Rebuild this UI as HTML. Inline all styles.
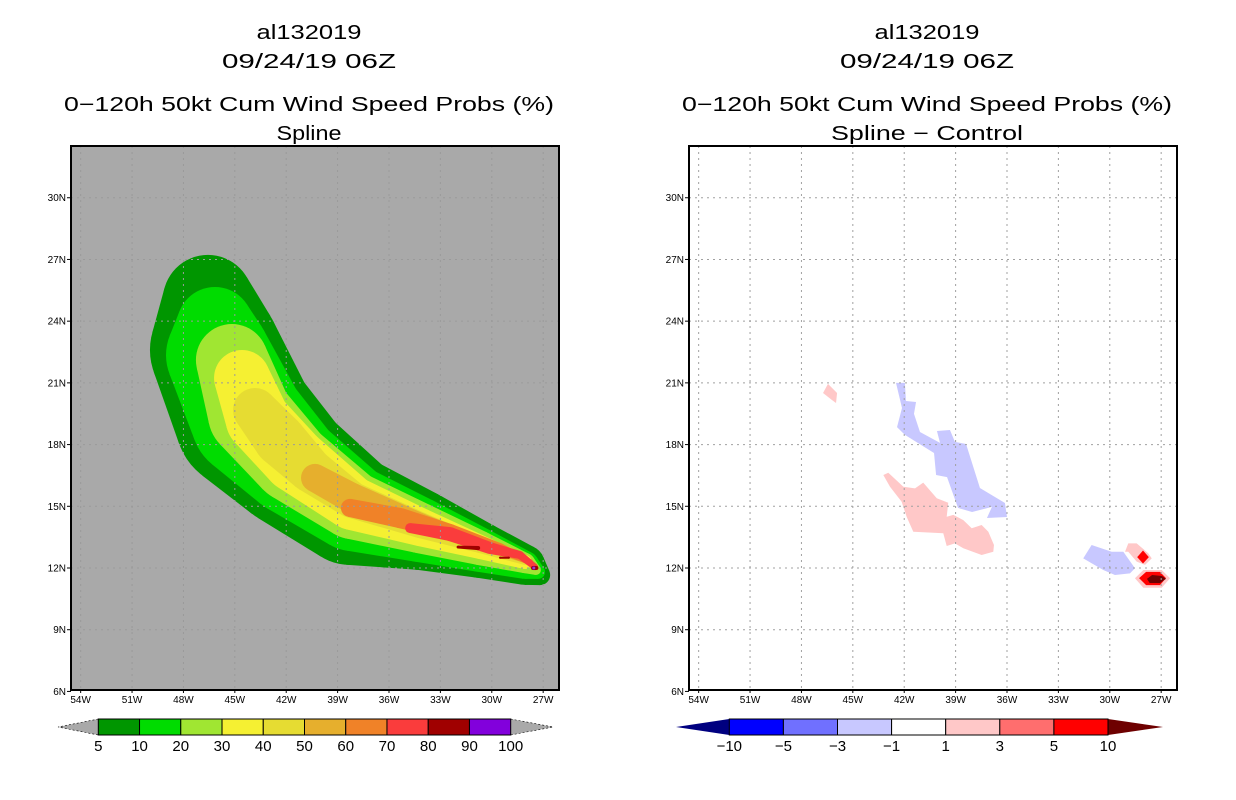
<!DOCTYPE html>
<html><head><meta charset="utf-8">
<style>
html,body{margin:0;padding:0;background:#fff;}
svg{display:block;font-family:"Liberation Sans",sans-serif;}
</style></head>
<body>
<svg id="root" width="1236" height="800" viewBox="0 0 1236 800">
  <g id="left"></g>
  <g id="right"></g>
</svg>
<script>
// ---- data ----
const latTicks = [6,9,12,15,18,21,24,27,30];
const lonTicks = [54,51,48,45,42,39,36,33,30,27];
const probLevels = [5,10,20,30,40,50,60,70,80,90,100];
const probColors = ["#009600","#00dc00","#a0e632","#f5f032","#e6dc32","#e6af2d","#f08228","#fa3c3c","#a00000","#8200dc"];
const diffLabels = ["−10","−5","−3","−1","1","3","5","10"];
const diffColors = ["#0000ff","#7070ff","#c8c8ff","#ffffff","#ffc8c8","#ff6e6e","#ff0000"];
// contour tracks [lonW, lat, radiusDeg]
const lev5  = [[[46.57,25.03,2.19],[46.16,22.60,3.16],[44.41,19.19,3.40],[41.78,17.01,3.01],[38.28,14.82,2.67],[34.19,13.85,1.94],[30.69,12.88,1.36],[28.06,12.15,0.97],[27.18,11.66,0.49]]];
const lev10 = [[[46.16,23.81,1.85],[45.98,22.35,2.53],[44.23,19.19,2.77],[41.66,17.01,2.43],[38.16,14.92,2.09],[34.19,13.85,1.56],[30.69,12.88,1.07],[28.06,12.15,0.68],[27.30,11.81,0.34]]];
const lev20 = [[[45.17,22.11,1.75],[44.11,19.44,2.04],[41.66,17.15,1.94],[38.16,15.06,1.65],[34.19,13.94,1.22],[30.69,12.97,0.83],[28.06,12.24,0.49],[27.42,11.90,0.24]]];
const lev30 = [[[44.58,21.24,1.36],[43.65,19.19,1.56],[41.49,17.25,1.56],[38.16,15.16,1.31],[34.19,13.99,0.92],[30.69,13.02,0.58],[28.06,12.29,0.34]]];
const lev40 = [[[43.82,19.68,1.07],[42.36,18.22,1.26],[40.61,16.76,1.07],[38.16,15.31,0.88],[34.19,14.09,0.63],[30.69,13.12,0.39],[28.06,12.34,0.19]]];
const lev50 = [[[40.32,16.38,0.68],[38.16,15.40,0.73],[34.19,14.19,0.49],[30.69,13.22,0.29],[28.06,12.39,0.15]]];
const lev60 = [[[38.28,14.92,0.44],[35.36,14.43,0.49],[32.44,13.75,0.39],[29.52,12.97,0.24],[27.77,12.29,0.15]]];
const lev70 = [[[34.77,13.94,0.24],[32.44,13.65,0.34],[30.10,12.97,0.29],[28.35,12.63,0.19],[27.48,12.05,0.15]]];
const lev80 = [[[31.97,13.02,0.07],[30.80,12.97,0.1]],[[29.52,12.5,0.05],[29.0,12.5,0.05]],[[27.59,12.0,0.1],[27.4,12.0,0.1]]];
const lev90 = [[[27.55,12.0,0.08]]];
// difference blobs [lonW, lat]
const blueMain = [[42.48,21.0],[41.96,21.0],[41.90,20.12],[41.31,20.07],[41.43,19.49],[41.08,18.61],[39.91,18.08],[40.09,18.66],[39.33,18.71],[39.04,18.13],[38.39,18.03],[37.58,15.89],[36.12,15.16],[36.0,14.48],[37.17,14.43],[36.88,14.97],[38.04,14.72],[38.86,14.92],[39.50,16.42],[40.14,16.52],[40.26,17.59],[41.96,18.47],[42.42,18.85],[42.13,19.78]];
const pinkMain = [[43.22,16.52],[42.93,16.63],[42.05,15.95],[41.37,15.87],[40.89,16.15],[40.10,15.39],[39.43,15.17],[39.52,14.49],[39.13,14.58],[38.55,14.33],[38.06,13.93],[37.48,14.09],[37.09,13.76],[36.76,13.12],[36.80,12.79],[37.48,12.63],[38.55,12.96],[39.04,13.20],[39.52,13.07],[39.72,13.69],[41.47,13.76],[41.86,14.49],[42.15,15.22],[42.83,15.95]];
const pinkNW = [[46.74,20.51],[46.45,20.95],[45.92,20.51],[45.98,20.02],[46.22,20.17]];
const blueSE = [[31.55,12.47],[31.06,13.12],[29.89,12.79],[29.21,12.79],[28.53,11.99],[28.82,11.74],[29.70,11.66],[30.38,11.90]];
const pinkSE1 = [[29.11,12.79],[28.92,13.20],[28.43,13.20],[27.75,12.71],[27.55,12.47],[27.94,12.15],[28.43,12.31],[28.92,12.79]];
const redSE1 = [[28.40,12.53],[28.06,12.85],[27.72,12.53],[28.06,12.22]];
const pinkSE2 = [[28.53,11.50],[28.04,11.90],[26.97,11.90],[26.48,11.50],[26.97,11.04],[28.04,11.04]];
const redSE2 = [[28.29,11.51],[27.88,11.81],[27.07,11.81],[26.72,11.51],[27.07,11.17],[27.88,11.17]];
const darkSE2 = [[27.83,11.47],[27.53,11.66],[26.95,11.61],[26.72,11.47],[27.07,11.27],[27.67,11.27]];

// ---- scales ----
const NS="http://www.w3.org/2000/svg";
const PX_LON=17.13, PX_LAT=20.57;
function xs(off){return lon=>389+off+(36-lon)*PX_LON;}
function ys(lat){return 568-(lat-12)*PX_LAT;}
function mk(tag,attrs,parent){const e=document.createElementNS(NS,tag);for(const k in attrs)e.setAttribute(k,attrs[k]);parent.appendChild(e);return e;}

function txt(parent,x,y,s,size,anchor,len){
  const t=mk('text',{x:x,y:y,'font-size':size,'text-anchor':anchor||'middle',fill:'#000'},parent);
  if(len){t.setAttribute('textLength',len);t.setAttribute('lengthAdjust','spacingAndGlyphs');}
  t.textContent=s;return t;
}

function titles(g,cx,sub,subLen){
  let t=txt(g,cx,39,"al132019",20,'middle',105);
  
  
  t=txt(g,cx,68,"09/24/19 06Z",20,'middle',174);
  
  
  t=txt(g,cx,111,"0−120h 50kt Cum Wind Speed Probs (%)",20,'middle',490);
  
  
  t=txt(g,cx,140,sub,20,'middle',subLen);
  
  
}

function axes(g,off,gridColor){
  const X=xs(off);
  const L=71+off,R=559+off,T=146,B=690;
  const grid=mk('g',{},g);
  
  
  latTicks.forEach(la=>{const y=ys(la);if(y>T+2&&y<B-2)mk('line',{x1:L,x2:R,y1:y,y2:y,stroke:gridColor,'stroke-width':1,'stroke-dasharray':'2,4'},grid);});
  lonTicks.forEach(lo=>{const x=X(lo);mk('line',{x1:x,x2:x,y1:T,y2:B,stroke:gridColor,'stroke-width':1,'stroke-dasharray':'2,4'},grid);});
  const fr=mk('rect',{x:L,y:T,width:R-L,height:B-T,fill:'none',stroke:'#000','stroke-width':2},g);
  
  
  latTicks.forEach(la=>{const y=ys(la);
    mk('line',{x1:L-4,x2:L,y1:y,y2:y,stroke:'#000','stroke-width':1},g);
    const t=txt(g,L-5,y+3.5,la+"N",10,'end');
    
    
  });
  lonTicks.forEach(lo=>{const x=X(lo);
    mk('line',{x1:x,x2:x,y1:B,y2:B+3,stroke:'#000','stroke-width':1},g);
    const t=txt(g,x,B+13,lo+"W",10,'middle');
    
    
  });
}

function drawTrack(g,track,X,color){
  const pts=track.map(p=>[X(p[0]),ys(p[1]),p[2]*PX_LAT]);
  pts.forEach(p=>mk('circle',{cx:p[0],cy:p[1],r:p[2],fill:color},g));
  for(let i=0;i<pts.length-1;i++){
    const [x1,y1,r1]=pts[i],[x2,y2,r2]=pts[i+1];
    const dx=x2-x1,dy=y2-y1,d=Math.hypot(dx,dy);
    if(d<=Math.abs(r1-r2))continue;
    const th=Math.atan2(dy,dx),a=Math.acos((r1-r2)/d);
    const p=[[x1+r1*Math.cos(th+a),y1+r1*Math.sin(th+a)],[x2+r2*Math.cos(th+a),y2+r2*Math.sin(th+a)],
             [x2+r2*Math.cos(th-a),y2+r2*Math.sin(th-a)],[x1+r1*Math.cos(th-a),y1+r1*Math.sin(th-a)]];
    mk('polygon',{points:p.map(q=>q.join(',')).join(' '),fill:color},g);
  }
}
function poly(g,arr,X,color,name){
  const p=mk('polygon',{points:arr.map(q=>X(q[0])+','+ys(q[1])).join(' '),fill:color},g);
  
  
}

// ---- left panel ----
const gl=document.getElementById('left');
titles(gl,309,"Spline",65);
const bg=mk('rect',{x:71,y:146,width:488,height:544,fill:'#a9a9a9'},gl);


const XL=xs(0);
const levels=[lev5,lev10,lev20,lev30,lev40,lev50,lev60,lev70,lev80,lev90];
levels.forEach((lv,i)=>{
  const g=mk('g',{},gl);
  
  
  lv.forEach(tr=>drawTrack(g,tr,XL,probColors[i]));
});
axes(gl,0,'#9a9a9a');

// left colorbar
(function(){
  const g=mk('g',{},gl);
  
  
  const x0=98.3,x1=510.7,w=(x1-x0)/probColors.length,T=719,B=735;
  mk('polygon',{points:`${x0},${T} 58,727 ${x0},${B}`,fill:'#a9a9a9',stroke:'#000','stroke-width':0.6,'stroke-dasharray':'2,2'},g);
  mk('polygon',{points:`${x1},${T} 553,727 ${x1},${B}`,fill:'#a9a9a9',stroke:'#000','stroke-width':0.6,'stroke-dasharray':'2,2'},g);
  probColors.forEach((c,i)=>{
    const r=mk('rect',{x:x0+i*w,y:T,width:w,height:B-T,fill:c,stroke:'#000','stroke-width':1},g);
    
    
  });
  probLevels.forEach((v,i)=>{
    const t=txt(g,x0+i*w,751,String(v),15,'middle');
    
    
  });
})();

// ---- right panel ----
const gr=document.getElementById('right');
titles(gr,927,"Spline − Control",192);
const XR=xs(618);
const bgr=mk('rect',{x:689,y:146,width:488,height:544,fill:'#fff'},gr);


poly(gr,blueMain,XR,'#c8c8ff','negative-diff-region');
poly(gr,blueSE,XR,'#c8c8ff','negative-diff-region');
poly(gr,pinkMain,XR,'#ffc8c8','positive-diff-region');
poly(gr,pinkNW,XR,'#ffc8c8','positive-diff-region');
poly(gr,pinkSE1,XR,'#ffc8c8','positive-diff-region');
poly(gr,redSE1,XR,'#ff0000','strong-positive-diff');
poly(gr,pinkSE2,XR,'#ffc8c8','positive-diff-region');
poly(gr,redSE2,XR,'#ff0000','strong-positive-diff');
poly(gr,darkSE2,XR,'#6e0000','max-positive-diff');
axes(gr,618,'#a0a0a0');

(function(){
  const g=mk('g',{},gr);
  
  
  const x0=729.3,x1=1108,w=(x1-x0)/diffColors.length,T=719,B=735;
  mk('polygon',{points:`${x0},${T} 676,727 ${x0},${B}`,fill:'#000080'},g);
  mk('polygon',{points:`${x1},${T} 1163,727 ${x1},${B}`,fill:'#6e0000'},g);
  diffColors.forEach((c,i)=>{
    const r=mk('rect',{x:x0+i*w,y:T,width:w,height:B-T,fill:c,stroke:'#000','stroke-width':1},g);
    
    
  });
  diffLabels.forEach((v,i)=>{
    const t=txt(g,x0+i*w,751,v,15,'middle');
    
    
  });
})();
</script>
</body></html>
